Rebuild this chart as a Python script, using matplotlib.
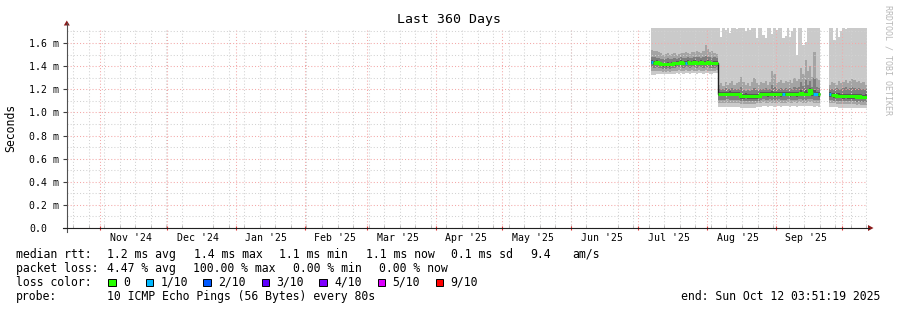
import numpy as np
import matplotlib
matplotlib.use('Agg')
import matplotlib.pyplot as plt
import matplotlib.dates as mdates
import pandas as pd
from matplotlib.patches import Rectangle, Polygon
from matplotlib.lines import Line2D
from matplotlib.ticker import MultipleLocator
from datetime import datetime, timedelta

nan = float('nan')

# ---------------- data ----------------
title = "Last 360 Days"
y_label = "Seconds"
watermark = "RRDTOOL / TOBI OETIKER"
end_time = datetime(2025, 10, 12, 3, 51, 19)
range_days = 360
data_start = datetime(2025, 7, 7, 3, 51, 19)   # first daily sample

ytick_vals = [0.0, 0.2, 0.4, 0.6, 0.8, 1.0, 1.2, 1.4, 1.6]
ytick_labels = ["0.0", "0.2 m", "0.4 m", "0.6 m", "0.8 m", "1.0 m", "1.2 m", "1.4 m", "1.6 m"]

# daily median RTT (ms)
median_ms = [
    1.435, 1.43, 1.435, 1.43, 1.42, 1.415, 1.415, 1.42, 1.415, 1.42,
    1.425, 1.43, 1.43, 1.435, 1.43, 1.43, 1.435, 1.43, 1.43, 1.435,
    1.43, 1.43, 1.435, 1.43, 1.43, 1.435, 1.43, 1.425, 1.43, 1.43,
    1.162, 1.16, 1.16, 1.158, 1.16, 1.162, 1.16, 1.158, 1.16, 1.16,
    1.142, 1.14, 1.145, 1.14, 1.142, 1.14, 1.138, 1.142, 1.145, 1.155,
    1.158, 1.16, 1.155, 1.16, 1.158, 1.155, 1.16, 1.158, 1.155, 1.16,
    1.158, 1.16, 1.155, 1.158, 1.16, 1.155, 1.16, 1.165, 1.16, 1.158,
    1.16, 1.19, 1.17, 1.16, 1.158, 1.155,
    nan, nan, nan, nan,
    1.155, 1.15, 1.148, 1.145, 1.145, 1.142, 1.14, 1.142, 1.14, 1.138,
    1.14, 1.138, 1.135, 1.138, 1.135, 1.132, 1.135,
]

# sorted ping ranks (smoke), ms
ping10_ms = [
    1.80, 1.80, 1.80, 1.80, 1.80, 1.80, 1.80, 1.80, 1.80, 1.80,
    1.80, 1.80, 1.80, 1.80, 1.80, 1.80, 1.80, 1.80, 1.80, 1.80,
    1.80, 1.80, 1.80, 1.80, 1.80, 1.80, 1.80, 1.80, 1.80, 1.80,
    1.80, 1.655, 1.80, 1.71, 1.80, 1.69, 1.80, 1.80, 1.72, 1.80,
    1.80, 1.80, 1.70, 1.80, 1.71, 1.80, 1.80, 1.64, 1.80, 1.80,
    1.67, 1.64, 1.80, 1.80, 1.68, 1.80, 1.71, 1.80, 1.80, 1.64,
    1.66, 1.80, 1.65, 1.70, 1.80, 1.50, 1.80, 1.80, 1.58, 1.61,
    1.80, 1.80, 1.80, 1.80, 1.80, 1.80,
    nan, nan, nan, nan,
    1.80, 1.80, 1.63, 1.80, 1.65, 1.70, 1.80, 1.72, 1.80, 1.80,
    1.80, 1.80, 1.80, 1.80, 1.80, 1.80, 1.80,
]
ping9_ms = [
    1.54, 1.535, 1.53, 1.52, 1.51, 1.50, 1.505, 1.51, 1.50, 1.505,
    1.51, 1.50, 1.505, 1.51, 1.515, 1.52, 1.51, 1.505, 1.52, 1.525,
    1.53, 1.52, 1.515, 1.53, 1.58, 1.55, 1.52, 1.53, 1.51, 1.505,
    1.24, 1.25, 1.23, 1.26, 1.24, 1.25, 1.27, 1.24, 1.25, 1.26,
    1.31, 1.26, 1.24, 1.25, 1.23, 1.26, 1.30, 1.25, 1.24, 1.26,
    1.25, 1.27, 1.24, 1.26, 1.36, 1.33, 1.25, 1.26, 1.28, 1.25,
    1.27, 1.26, 1.28, 1.25, 1.30, 1.27, 1.29, 1.38, 1.33, 1.45,
    1.36, 1.40, 1.31, 1.52, 1.30, 1.28,
    nan, nan, nan, nan,
    1.24, 1.26, 1.25, 1.24, 1.27, 1.25, 1.26, 1.28, 1.25, 1.27,
    1.29, 1.28, 1.26, 1.27, 1.25, 1.26, 1.24,
]
ping8_ms = [
    1.48, 1.475, 1.47, 1.47, 1.465, 1.46, 1.465, 1.47, 1.465, 1.46,
    1.47, 1.465, 1.47, 1.475, 1.47, 1.47, 1.475, 1.47, 1.47, 1.475,
    1.48, 1.475, 1.47, 1.475, 1.49, 1.48, 1.475, 1.47, 1.475, 1.47,
    1.20, 1.205, 1.20, 1.21, 1.20, 1.205, 1.21, 1.20, 1.20, 1.205,
    1.22, 1.19, 1.185, 1.19, 1.185, 1.19, 1.21, 1.19, 1.19, 1.20,
    1.20, 1.21, 1.20, 1.205, 1.24, 1.22, 1.20, 1.205, 1.21, 1.20,
    1.21, 1.20, 1.21, 1.205, 1.22, 1.21, 1.22, 1.26, 1.23, 1.28,
    1.24, 1.27, 1.22, 1.30, 1.22, 1.21,
    nan, nan, nan, nan,
    1.20, 1.205, 1.20, 1.21, 1.20, 1.205, 1.21, 1.22, 1.20, 1.21,
    1.22, 1.21, 1.205, 1.21, 1.20, 1.205, 1.20,
]
ping7_ms = [
    1.45, 1.445, 1.45, 1.445, 1.435, 1.43, 1.43, 1.435, 1.43, 1.435,
    1.44, 1.445, 1.445, 1.45, 1.445, 1.445, 1.45, 1.445, 1.445, 1.45,
    1.445, 1.445, 1.45, 1.445, 1.445, 1.45, 1.445, 1.44, 1.445, 1.445,
    1.18, 1.18, 1.18, 1.178, 1.18, 1.182, 1.18, 1.178, 1.18, 1.18,
    1.162, 1.16, 1.165, 1.16, 1.162, 1.16, 1.158, 1.162, 1.165, 1.175,
    1.178, 1.18, 1.175, 1.18, 1.185, 1.18, 1.18, 1.178, 1.175, 1.18,
    1.178, 1.18, 1.175, 1.178, 1.18, 1.175, 1.18, 1.19, 1.18, 1.19,
    1.18, 1.21, 1.19, 1.19, 1.178, 1.175,
    nan, nan, nan, nan,
    1.175, 1.17, 1.168, 1.165, 1.165, 1.162, 1.16, 1.162, 1.16, 1.158,
    1.16, 1.158, 1.155, 1.158, 1.155, 1.152, 1.155,
]
ping4_ms = [
    1.415, 1.41, 1.415, 1.41, 1.40, 1.395, 1.395, 1.40, 1.395, 1.40,
    1.405, 1.41, 1.41, 1.415, 1.41, 1.41, 1.415, 1.41, 1.41, 1.415,
    1.41, 1.41, 1.415, 1.41, 1.41, 1.415, 1.41, 1.405, 1.41, 1.41,
    1.14, 1.14, 1.138, 1.138, 1.14, 1.14, 1.14, 1.138, 1.14, 1.14,
    1.12, 1.12, 1.125, 1.12, 1.12, 1.12, 1.118, 1.12, 1.125, 1.135,
    1.138, 1.14, 1.135, 1.14, 1.138, 1.135, 1.14, 1.138, 1.135, 1.14,
    1.138, 1.14, 1.135, 1.138, 1.14, 1.135, 1.14, 1.145, 1.14, 1.138,
    1.14, 1.16, 1.145, 1.14, 1.138, 1.135,
    nan, nan, nan, nan,
    1.135, 1.13, 1.128, 1.125, 1.125, 1.122, 1.12, 1.122, 1.12, 1.118,
    1.12, 1.118, 1.115, 1.118, 1.115, 1.112, 1.115,
]
ping3_ms = [
    1.39, 1.385, 1.39, 1.385, 1.38, 1.375, 1.375, 1.38, 1.375, 1.38,
    1.385, 1.39, 1.39, 1.39, 1.385, 1.39, 1.39, 1.385, 1.39, 1.39,
    1.385, 1.39, 1.39, 1.385, 1.39, 1.39, 1.385, 1.38, 1.385, 1.39,
    1.11, 1.11, 1.108, 1.11, 1.112, 1.11, 1.108, 1.11, 1.11, 1.105,
    1.10, 1.098, 1.10, 1.098, 1.10, 1.098, 1.10, 1.10, 1.102, 1.11,
    1.112, 1.11, 1.108, 1.112, 1.11, 1.108, 1.11, 1.112, 1.11, 1.108,
    1.11, 1.112, 1.108, 1.11, 1.11, 1.108, 1.112, 1.115, 1.11, 1.11,
    1.112, 1.12, 1.115, 1.11, 1.108, 1.105,
    nan, nan, nan, nan,
    1.11, 1.105, 1.10, 1.10, 1.098, 1.10, 1.095, 1.098, 1.095, 1.095,
    1.098, 1.095, 1.092, 1.095, 1.092, 1.09, 1.092,
]
ping2_ms = [
    1.36, 1.355, 1.36, 1.36, 1.355, 1.35, 1.35, 1.355, 1.35, 1.355,
    1.36, 1.36, 1.365, 1.36, 1.36, 1.365, 1.36, 1.36, 1.365, 1.36,
    1.36, 1.365, 1.36, 1.36, 1.365, 1.36, 1.36, 1.355, 1.36, 1.365,
    1.08, 1.082, 1.08, 1.085, 1.082, 1.08, 1.078, 1.08, 1.082, 1.078,
    1.075, 1.072, 1.075, 1.072, 1.075, 1.072, 1.075, 1.078, 1.08, 1.085,
    1.088, 1.085, 1.082, 1.088, 1.085, 1.082, 1.085, 1.088, 1.085, 1.082,
    1.085, 1.088, 1.082, 1.085, 1.088, 1.085, 1.088, 1.09, 1.085, 1.085,
    1.088, 1.09, 1.088, 1.085, 1.082, 1.08,
    nan, nan, nan, nan,
    1.085, 1.08, 1.078, 1.075, 1.075, 1.072, 1.072, 1.075, 1.072, 1.07,
    1.072, 1.07, 1.068, 1.07, 1.068, 1.066, 1.068,
]
ping1_ms = [
    1.325, 1.325, 1.33, 1.33, 1.335, 1.33, 1.33, 1.335, 1.33, 1.335,
    1.335, 1.34, 1.335, 1.34, 1.335, 1.34, 1.34, 1.335, 1.34, 1.34,
    1.335, 1.34, 1.34, 1.335, 1.34, 1.34, 1.335, 1.335, 1.34, 1.34,
    1.045, 1.05, 1.048, 1.05, 1.045, 1.048, 1.05, 1.045, 1.048, 1.045,
    1.04, 1.038, 1.04, 1.042, 1.04, 1.038, 1.042, 1.045, 1.048, 1.05,
    1.055, 1.052, 1.05, 1.055, 1.052, 1.05, 1.055, 1.052, 1.05, 1.055,
    1.052, 1.055, 1.05, 1.052, 1.055, 1.05, 1.055, 1.058, 1.052, 1.055,
    1.055, 1.058, 1.055, 1.05, 1.052, 1.05,
    nan, nan, nan, nan,
    1.05, 1.048, 1.045, 1.045, 1.042, 1.04, 1.04, 1.042, 1.04, 1.038,
    1.04, 1.038, 1.035, 1.038, 1.035, 1.035, 1.035,
]

# lost pings out of 10, per day
loss_tenths = [
    1, 0, 0, 0, 0, 0, 0, 0, 0, 0,
    0, 0, 0, 0, 0, 1, 0, 0, 0, 0,
    0, 0, 0, 0, 0, 0, 0, 0, 0, 0,
    0, 0, 0, 0, 0, 0, 0, 0, 0, 0,
    0, 0, 0, 0, 0, 0, 0, 0, 0, 0,
    0, 0, 0, 0, 0, 0, 0, 0, 0, 1,
    0, 0, 0, 0, 0, 0, 0, 0, 0, 0,
    0, 0, 0, 1, 1, 0, 0, 0, 0, 0,
    1, 0, 0, 0, 0, 0, 0, 0, 0, 0,
    0, 0, 0, 0, 0, 0, 0,
]
# periods with data (start index, end index) and the level shift index
data_blocks = [(0, 76), (80, 97)]
level_blocks = [(0, 30), (30, 76), (80, 97)]

loss_labels = ["0", "1/10", "2/10", "3/10", "4/10", "5/10", "9/10"]
loss_colors = ["#26ff00", "#00b8ff", "#0059ff", "#5e00ff", "#7e00ff", "#dd00ff", "#ff0000"]
loss_color_by_count = {0: "#26ff00", 1: "#00b8ff", 2: "#0059ff", 3: "#5e00ff",
                       4: "#7e00ff", 5: "#dd00ff", 9: "#ff0000"}

legend_rows = [
    ["median rtt:", "1.2 ms avg", "1.4 ms max", "1.1 ms min", "1.1 ms now", "0.1 ms sd", "9.4", "am/s"],
    ["packet loss:", "4.47 % avg", "100.00 % max", "0.00 % min", "0.00 % now"],
]
probe_text = ["probe:", "10 ICMP Echo Pings (56 Bytes) every 80s"]
end_text = "end: Sun Oct 12 03:51:19 2025"

# ---------------- layout ----------------
W, H = 897, 310
plt.rcParams['font.family'] = ['DejaVu Sans Mono']
fig = plt.figure(figsize=(W / 100, H / 100), dpi=100)
fig.patch.set_facecolor('white')


def F(x, y):
    return x / W, 1 - y / H


PL, PR, PT, PB = 66.8, 866.8, 28, 228
ax = fig.add_axes([PL / W, 1 - PB / H, (PR - PL) / W, (PB - PT) / H])
ax.set_facecolor('white')
for s in ax.spines.values():
    s.set_visible(False)

t0 = mdates.date2num(end_time - timedelta(days=range_days))
t1 = mdates.date2num(end_time)
n = len(median_ms)
edges = mdates.date2num([data_start + timedelta(days=k) for k in range(n + 1)])

med = np.array(median_ms)
p = [np.array(a) for a in (ping1_ms, ping2_ms, ping3_ms, ping4_ms,
                          ping7_ms, ping8_ms, ping9_ms, ping10_ms)]
band_colors = ['#cacaca', '#a4a4a4', '#7e7e7e', '#585858', '#7e7e7e', '#a4a4a4', '#cacaca']

for (s, e) in level_blocks:
    for k, c in enumerate(band_colors):
        ax.stairs(p[k + 1][s:e], edges[s:e + 1], baseline=p[k][s:e], fill=True,
                  facecolor=c, edgecolor='none', lw=0, antialiased=False, zorder=1)

ax.set_xlim(t0, t1)
ax.set_ylim(0, 1.73)

# grid
dots = (0, (1, 2))
grid_gray = '#d2d2d2'
grid_red = '#f4a8a8'
ax.set_axisbelow(False)
ax.set_yticks(ytick_vals, labels=ytick_labels)
ax.yaxis.set_minor_locator(MultipleLocator(0.1))
ax.grid(axis='y', which='major', color=grid_red, ls=dots, lw=0.75, zorder=2)
ax.grid(axis='y', which='minor', color=grid_gray, ls=dots, lw=0.75, zorder=2)
ax.xaxis.set_major_locator(mdates.MonthLocator(bymonthday=15))
ax.xaxis.set_major_formatter(mdates.DateFormatter("%b '%y"))
ax.xaxis.set_minor_locator(mdates.WeekdayLocator(byweekday=mdates.SU))
ax.grid(axis='x', which='minor', color=grid_gray, ls=dots, lw=0.75, zorder=2)
month_starts = mdates.date2num(pd.date_range(end_time - timedelta(days=range_days), end_time, freq='MS').to_pydatetime())
ax.vlines(month_starts, 0, 1, transform=ax.get_xaxis_transform(), colors=grid_red,
          linestyles=dots, lw=0.75, zorder=2.1)
ax.vlines(month_starts, -0.012, 0.012, transform=ax.get_xaxis_transform(), colors='#e03030',
          lw=0.8, zorder=5, clip_on=False)

ax.tick_params(axis='x', which='major', length=0, pad=3.4, labelsize=7.1)
ax.tick_params(axis='x', which='minor', length=2, direction='in', color='#b0b0b0')
ax.tick_params(axis='y', which='major', length=3, direction='out', color='#404040',
               labelsize=7.1, pad=24.3)
ax.tick_params(axis='y', which='minor', length=0)
for t in ax.get_yticklabels():
    t.set_horizontalalignment('left')

# median line
for (s, e) in data_blocks:
    ax.stairs(med[s:e], edges[s:e + 1], baseline=None, color='#202020', lw=1.0, zorder=3)
for (s, e) in level_blocks:
    r0 = s
    for i in range(s + 1, e + 1):
        if i == e or loss_tenths[i] != loss_tenths[r0]:
            ax.stairs(med[r0:i], edges[r0:i + 1], baseline=None,
                      color=loss_color_by_count[loss_tenths[r0]], lw=2.2, zorder=4)
            r0 = i

# axes lines with arrows
fig.add_artist(Line2D([F(PL, 0)[0]] * 2, [F(0, 232)[1], F(0, 23)[1]], color='#505050', lw=0.8))
fig.add_artist(Line2D([F(63, 0)[0], F(869, 0)[0]], [F(0, PB)[1]] * 2, color='#202020', lw=0.8))
arrow_c = '#8b1a1a'
fig.add_artist(Polygon([F(PL - 3, 25.5), F(PL + 3, 25.5), F(PL, 20.5)], closed=True,
                       facecolor=arrow_c, edgecolor='none'))
fig.add_artist(Polygon([F(868, PB - 3), F(868, PB + 3), F(873.5, PB)], closed=True,
                       facecolor=arrow_c, edgecolor='none'))

# texts
fig.text(*F(448.5, 19), title, ha='center', va='center', fontsize=9.5)
fig.text(*F(11, 128), y_label, ha='center', va='center', rotation=90, fontsize=8.3)
fig.text(*F(888, 5), watermark, ha='center', va='top', rotation=270, fontsize=6, color='#b8b8b8')

fs = 8.3
row_x = [
    [16, 107.3, 193.7, 279.3, 365.7, 450.5, 530, 572.7],
    [16, 107.3, 193.3, 293.3, 379],
]
row_y = [254.3, 268.3]
for texts, xs, y in zip(legend_rows, row_x, row_y):
    for tx, x in zip(texts, xs):
        fig.text(*F(x, y), tx, ha='left', va='center', fontsize=fs)

# loss color legend
y3 = 282.3
fig.text(*F(16, y3), "loss color:", ha='left', va='center', fontsize=fs)
sq_x = [108.3, 145.7, 203.3, 261.7, 319.3, 377.7, 435.7]
for lab, col, x in zip(loss_labels, loss_colors, sq_x):
    fig.add_artist(Rectangle(F(x, 286.2), 7.5 / W, 7.5 / H, facecolor=col,
                             edgecolor='black', lw=0.7))
    fig.text(*F(x + 14.8, y3), lab, ha='left', va='center', fontsize=fs)

y4 = 296.3
fig.text(*F(16, y4), probe_text[0], ha='left', va='center', fontsize=fs)
fig.text(*F(107.3, y4), probe_text[1], ha='left', va='center', fontsize=fs)
fig.text(*F(880, y4), end_text, ha='right', va='center', fontsize=fs)

fig.savefig('out.png', dpi=100, facecolor='white')
